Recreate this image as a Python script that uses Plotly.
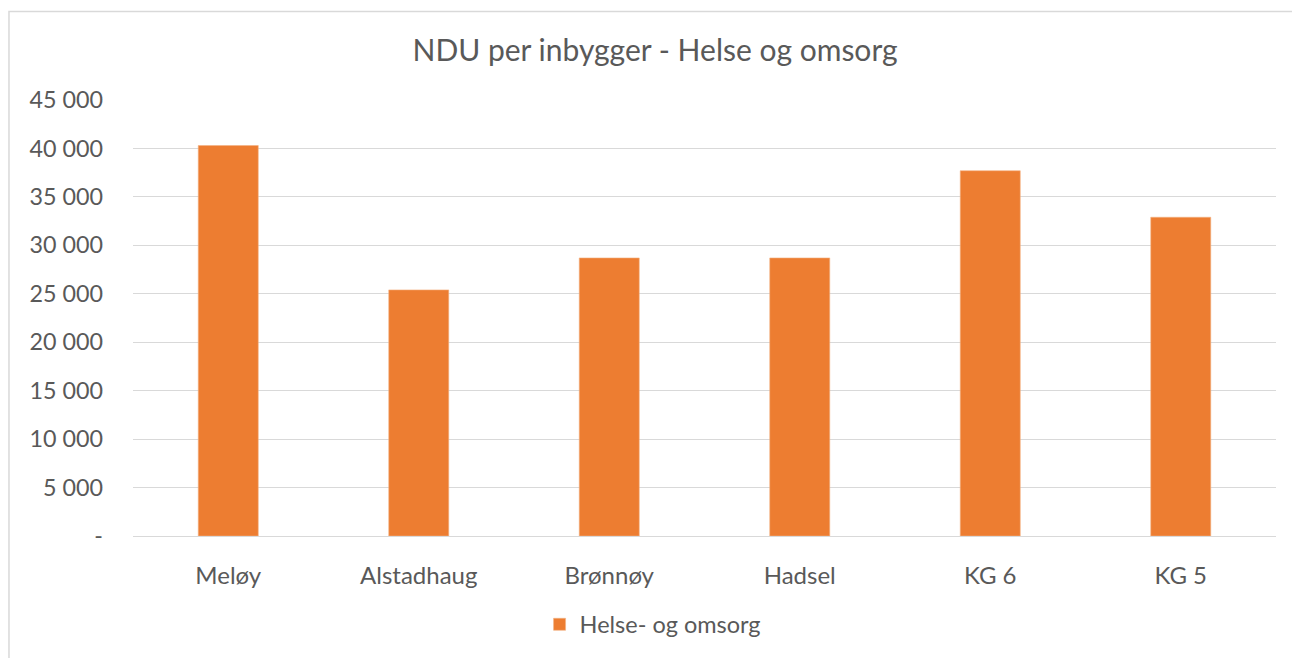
import plotly.graph_objects as go

# Net operating expenditure per inhabitant, health and care
kommuner = ["Meløy", "Alstadhaug", "Brønnøy", "Hadsel", "KG 6", "KG 5"]
helse_omsorg = [40300, 25400, 28700, 28700, 37700, 32900]

tick_vals = [0, 5000, 10000, 15000, 20000, 25000, 30000, 35000, 40000, 45000]
tick_text = ["-", "5 000", "10 000", "15 000", "20 000", "25 000",
             "30 000", "35 000", "40 000", "45 000"]

text_color = "#595959"
grid_color = "#d9d9d9"
font_family = "Lato, 'Open Sans', sans-serif"

fig = go.Figure()
fig.add_trace(go.Bar(
    x=kommuner,
    y=helse_omsorg,
    name="Helse- og omsorg",
    marker=dict(color="#ED7D31", line=dict(color="#F4B183", width=0.6)),
    showlegend=True,
))

fig.update_layout(
    width=1292,
    height=658,
    paper_bgcolor="white",
    plot_bgcolor="white",
    margin=dict(l=133, r=16, t=100, b=117),
    bargap=0.685,
    font=dict(family=font_family, color=text_color, size=23),
    title=dict(
        text="NDU per inbygger - Helse og omsorg",
        x=0.507, xanchor="center",
        y=0.924, yanchor="middle",
        font=dict(size=30, color=text_color, family=font_family),
    ),
    xaxis=dict(
        showgrid=False,
        showline=True,
        linecolor=grid_color,
        linewidth=1,
        ticks="",
        tickfont=dict(size=24, color=text_color),
        ticklabelstandoff=18,
    ),
    yaxis=dict(
        range=[0, 45000],
        tickvals=tick_vals,
        ticktext=tick_text,
        showgrid=True,
        gridcolor=grid_color,
        gridwidth=1,
        zeroline=False,
        showline=False,
        ticks="",
        ticklabelstandoff=29,
        tickfont=dict(size=23.3, color=text_color),
    ),
    legend=dict(
        orientation="h",
        x=0.455, xanchor="center",
        y=-0.203, yanchor="middle",
        font=dict(size=23.5, color=text_color),
        itemwidth=30,
    ),
    shapes=[dict(
        type="rect", xref="paper", yref="paper",
        x0=-0.1085, x1=1.05, y0=-0.5, y1=1.2032,
        line=dict(color=grid_color, width=1.5),
        fillcolor="rgba(0,0,0,0)",
        layer="below",
    )],
)

fig.write_html("out.html")
